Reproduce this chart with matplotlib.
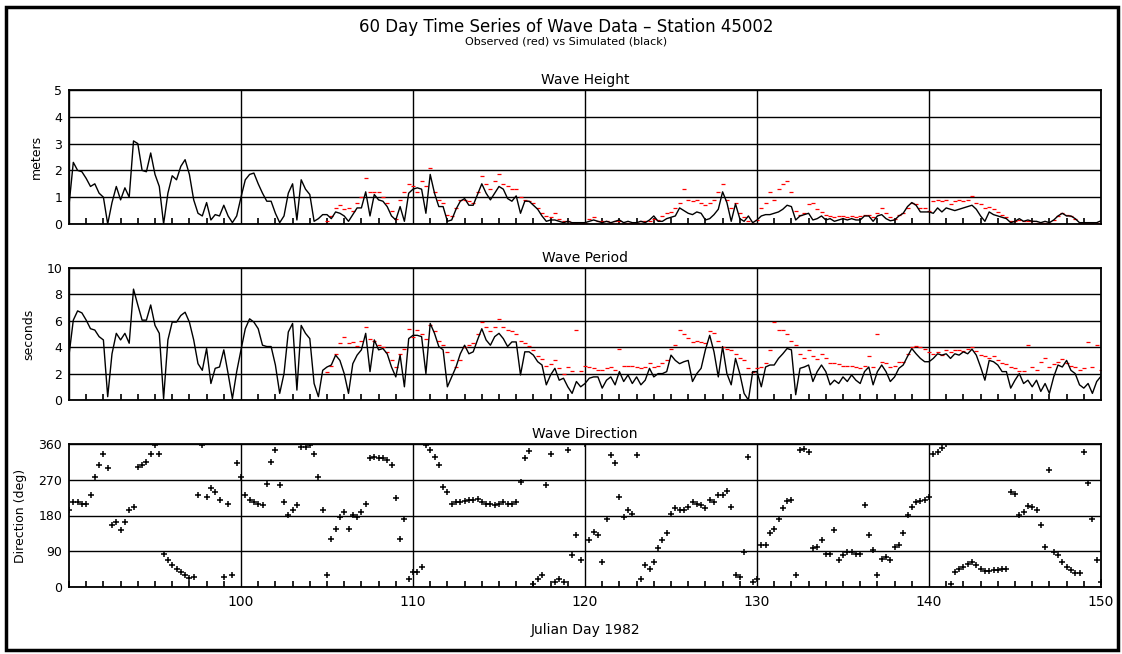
import numpy as np
import matplotlib.pyplot as plt
from matplotlib.patches import Rectangle
from matplotlib.ticker import MultipleLocator

# time axis: every 6 hours, Julian day 90 to 150
day_start = 90.0
step = 0.25

# simulated wave height (m), 90.0 .. 150.0
height_sim = [
    0.7, 2.3, 2.0, 1.95, 1.7, 1.4, 1.5, 1.15, 1.0, 0.0, 0.8, 1.4, 0.9, 1.35, 1.0, 3.1,
    3.0, 2.0, 1.95, 2.65, 1.85, 1.4, 0.0, 1.15, 1.8, 1.65, 2.15, 2.4, 1.85, 0.9, 0.4, 0.3,
    0.8, 0.15, 0.35, 0.3, 0.7, 0.3, 0.05, 0.3, 1.0,
    1.65, 1.85, 1.9, 1.5, 1.15, 0.85, 0.85, 0.4, 0.05, 0.3, 1.15, 1.5, 0.15, 1.65, 1.3, 1.1,
    0.1, 0.2, 0.35, 0.35, 0.2, 0.45, 0.4, 0.3, 0.1, 0.35, 0.6, 0.6, 1.2, 0.3, 1.1, 0.9,
    0.85, 0.65, 0.3, 0.15, 0.65, 0.1, 1.15, 1.3,
    1.35, 1.3, 0.4, 1.85, 1.15, 0.65, 0.65, 0.1, 0.15, 0.55, 0.85, 0.95, 0.7, 0.7, 1.1,
    1.5, 1.15, 0.9, 1.15, 1.4, 1.3, 0.95, 0.85, 1.05, 0.4, 0.85, 0.85, 0.7, 0.55, 0.3,
    0.1, 0.15, 0.15, 0.1, 0.05, 0.1, 0.05, 0.05, 0.05, 0.05,
    0.1, 0.15, 0.1, 0.05, 0.1, 0.05, 0.1, 0.15, 0.05, 0.1, 0.05, 0.05, 0.1, 0.05, 0.15,
    0.3, 0.1, 0.1, 0.2, 0.25, 0.3, 0.6, 0.5, 0.4, 0.35, 0.45, 0.4, 0.15, 0.2, 0.35, 0.55,
    1.2, 0.8, 0.1, 0.75, 0.2, 0.1, 0.3, 0.05, 0.15,
    0.3, 0.35, 0.35, 0.4, 0.45, 0.55, 0.7, 0.65, 0.15, 0.3, 0.35, 0.4, 0.15, 0.2, 0.3,
    0.15, 0.2, 0.1, 0.15, 0.2, 0.15, 0.2, 0.15, 0.15, 0.3, 0.3, 0.1, 0.3, 0.35, 0.2, 0.12,
    0.15, 0.3, 0.4, 0.65, 0.8, 0.7, 0.45, 0.45, 0.45,
    0.4, 0.6, 0.45, 0.6, 0.55, 0.5, 0.55, 0.6, 0.65, 0.7, 0.55, 0.3, 0.1, 0.45, 0.35,
    0.3, 0.25, 0.2, 0.05, 0.1, 0.2, 0.1, 0.15, 0.1, 0.1, 0.05, 0.1, 0.05, 0.15, 0.3, 0.4,
    0.3, 0.3, 0.2, 0.05, 0.05, 0.05, 0.05, 0.05, 0.12,
]

# observed wave height (m), buoy record starts at day 105.0
obs_start = 105.0
height_obs = [
    0.1, 0.3, 0.6, 0.7, 0.55, 0.6, 0.5, 0.8, 1.0, 1.7, 1.2, 1.2, 1.2, 1.0, 0.8, 0.5,
    0.2, 0.9, 1.2, 1.5,
    1.4, 1.2, 1.6, 1.4, 2.1, 1.2, 0.9, 0.8, 0.35, 0.3, 0.6, 0.9, 0.9, 0.85, 0.8, 1.2,
    1.8, 1.5, 1.3, 1.6, 1.85, 1.5, 1.4, 1.3, 1.3, 1.0, 0.9, 0.85, 0.8, 0.6, 0.4, 0.3,
    0.25, 0.4, 0.2, 0.1, 0.1, 0.05, 0.05, 0.05,
    0.05, 0.2, 0.25, 0.1, 0.1, 0.1, 0.05, 0.1, 0.1, 0.05, 0.05, 0.05, 0.05, 0.1, 0.1,
    0.1, 0.2, 0.15, 0.3, 0.4, 0.45, 0.6, 0.8, 1.3, 0.9, 0.85, 0.9, 0.8, 0.7, 0.8, 0.9,
    1.2, 1.5, 0.9, 0.6, 0.8, 0.4, 0.25, 0.1, 0.05,
    0.15, 0.6, 0.8, 1.2, 0.9, 1.3, 1.5, 1.6, 1.2, 0.5, 0.35, 0.4, 0.75, 0.8, 0.55, 0.45,
    0.35, 0.3, 0.25, 0.3, 0.3, 0.25, 0.3, 0.25, 0.3, 0.35, 0.35, 0.25, 0.4, 0.6, 0.4,
    0.25, 0.2, 0.35, 0.4, 0.6, 0.8, 0.75, 0.6, 0.6,
    0.5, 0.85, 0.9, 0.85, 0.9, 0.75, 0.85, 0.9, 0.85, 0.9, 1.05, 0.8, 0.75, 0.6, 0.65,
    0.55, 0.45, 0.35, 0.25, 0.1, 0.1, 0.15, 0.1, 0.1, 0.1, 0.05, 0.05, 0.05, 0.05, 0.15,
    0.3, 0.4, 0.35, 0.3, 0.2, 0.05, 0.05, 0.05, 0.05, 0.05, 0.05,
]

# simulated wave period (s)
period_sim = [
    3.4, 6.05, 6.75, 6.6, 6.05, 5.4, 5.3, 4.8, 4.55, 0.25, 3.5, 5.05, 4.55, 5.05, 4.3, 8.4,
    7.2, 6.05, 6.05, 7.2, 5.65, 5.05, 0.1, 4.55, 5.9, 5.9, 6.4, 6.65, 5.9, 4.55, 2.75, 2.25,
    3.9, 1.25, 2.4, 2.5, 3.8, 2.0, 0.1, 2.15, 3.8,
    5.4, 6.15, 5.9, 5.4, 4.15, 4.05, 4.05, 2.65, 0.5, 2.0, 5.15, 5.8, 0.75, 5.65, 5.05,
    4.65, 1.25, 0.25, 2.25, 2.5, 2.65, 3.4, 3.0, 2.0, 0.5, 2.75, 3.4, 3.8, 5.05, 2.15,
    4.55, 3.8, 3.9, 3.5, 2.5, 1.75, 3.4, 1.0, 4.65, 4.9,
    4.9, 4.8, 2.0, 5.8, 5.05, 4.05, 3.8, 1.0, 1.75, 2.5, 3.5, 4.15, 3.5, 3.65, 4.55,
    5.4, 4.55, 4.15, 4.8, 5.05, 4.65, 4.05, 4.4, 4.4, 1.9, 3.65, 3.65, 3.4, 2.9, 2.65,
    1.15, 1.9, 2.4, 1.5, 1.65, 1.0, 0.5, 1.4, 1.0, 1.25,
    1.65, 1.75, 1.75, 0.9, 1.5, 1.75, 1.15, 2.15, 1.4, 1.9, 1.25, 1.75, 1.15, 1.5, 2.4,
    1.75, 2.0, 2.0, 2.15, 3.4, 3.0, 2.75, 2.9, 3.0, 1.4, 2.0, 2.4, 3.8, 4.9, 3.65, 1.75,
    4.05, 2.0, 1.15, 3.15, 2.0, 0.5, 0.0, 2.15, 2.15,
    1.0, 2.5, 2.65, 2.65, 3.15, 3.5, 3.9, 3.8, 0.4, 2.4, 2.5, 2.65, 1.4, 2.15, 2.65,
    2.15, 1.15, 1.5, 1.25, 1.75, 1.4, 1.9, 1.5, 1.25, 2.15, 2.5, 1.15, 2.15, 2.65, 2.15,
    1.4, 1.75, 2.4, 2.65, 3.3, 3.9, 3.5, 3.15, 2.9, 2.9,
    3.15, 3.5, 3.4, 3.5, 3.15, 3.5, 3.4, 3.65, 3.5, 3.85, 3.4, 2.5, 1.5, 3.0, 2.9,
    2.65, 2.15, 2.15, 0.9, 1.5, 2.0, 1.25, 1.5, 1.0, 1.5, 0.65, 1.25, 0.5, 1.75, 2.65,
    2.5, 3.0, 2.25, 2.0, 1.15, 0.9, 1.25, 0.5, 1.4, 1.8,
]

# observed wave period (s), from day 105.0
period_obs = [
    2.1, 2.6, 3.5, 4.3, 4.8, 4.3, 4.4, 4.1, 4.5, 5.5, 4.6, 4.5, 4.2, 4.0, 3.6, 3.0,
    2.5, 3.5, 3.9, 5.4,
    4.8, 5.3, 5.0, 4.6, 5.7, 5.2, 4.5, 4.2, 3.6, 3.0, 2.5, 3.0, 4.0, 4.2, 4.3, 5.0,
    5.9, 5.5, 5.2, 5.5, 6.1, 5.5, 5.3, 5.2, 5.0, 4.5, 4.3, 4.1, 3.8, 3.3, 3.1, 2.6,
    2.7, 3.0, 2.4, 2.0, 2.5, 2.2, 5.3, 2.2,
    2.6, 2.5, 2.4, 2.3, 2.3, 2.4, 2.5, 2.3, 3.9, 2.6, 2.6, 2.6, 2.5, 2.4, 2.5, 2.8,
    2.5, 2.6, 2.8, 3.0, 3.9, 4.2, 5.3, 5.0, 4.7, 4.4, 4.5, 4.4, 4.3, 5.2, 5.1, 4.5,
    4.0, 3.9, 3.8, 3.5, 3.2, 3.0, 2.4, 2.1,
    2.4, 2.5, 2.8, 3.8, 5.9, 5.3, 5.3, 5.0, 4.5, 4.2, 3.5, 3.2, 3.8, 3.3, 3.1, 3.5,
    3.2, 2.8, 2.8, 2.7, 2.6, 2.6, 2.6, 2.5, 2.4, 2.6, 3.3, 2.5, 5.0, 2.9, 2.8, 2.5,
    2.6, 2.9, 2.9, 3.5, 4.0, 4.1, 4.0, 3.9,
    3.6, 3.5, 3.6, 3.4, 3.8, 3.6, 3.8, 3.8, 3.7, 3.9, 4.0, 3.7, 3.4, 3.3, 3.2, 3.3,
    3.0, 2.8, 2.7, 2.5, 2.4, 2.2, 2.2, 4.2, 2.5, 2.3, 2.9, 3.2, 2.5, 2.7, 2.9, 3.1,
    2.8, 2.6, 2.5, 2.3, 2.4, 4.4, 2.5, 4.2, 2.3,
]

# simulated wave direction (deg)
direction_sim = [
    193, 214, 213, 210, 208, 231, 278, 307, 336, 299, 156, 164, 143, 164, 193, 202,
    303, 307, 315, 336, 357, 336, 84, 67, 55, 46, 38, 31, 23, 25, 231, 357,
    227, 248, 240, 219, 25, 210, 29, 311, 278,
    231, 219, 214, 210, 206, 260, 315, 345, 256, 214, 181, 193, 206, 353, 353, 357,
    336, 278, 193, 29, 122, 147, 177, 189, 147, 181, 177, 189, 210, 324, 328, 324,
    324, 320, 307, 223, 122, 172, 21, 38,
    38, 50, 357, 345, 328, 307, 252, 240, 210, 213, 213, 216, 219, 219, 221, 213,
    210, 208, 206, 210, 213, 210, 208, 213, 265, 324, 342, 8, 21, 29, 256, 336,
    13, 21, 13, 345, 80, 130, 67, 359,
    118, 139, 130, 63, 172, 332, 311, 227, 177, 193, 185, 332, 21, 55, 46, 63,
    97, 118, 135, 185, 198, 193, 193, 202, 214, 210, 206, 198, 219, 214, 231, 231,
    241, 202, 29, 25, 88, 328, 13, 21,
    105, 105, 135, 147, 172, 198, 216, 219, 29, 345, 347, 341, 97, 101, 118, 82,
    84, 143, 67, 80, 88, 87, 84, 82, 206, 130, 92, 29, 71, 76, 67, 101,
    105, 135, 181, 202, 213, 216, 219, 227,
    336, 341, 349, 359, 8, 38, 45, 50, 59, 63, 55, 46, 40, 40, 42, 42,
    45, 45, 240, 235, 181, 189, 204, 202, 193, 156, 101, 294, 88, 80, 63, 50,
    42, 34, 34, 341, 261, 172, 67, 13,
]

x_ticks = [100, 110, 120, 130, 140, 150]

days = day_start + step * np.arange(len(height_sim))
obs_days = obs_start + step * np.arange(len(height_obs))

fig = plt.figure(figsize=(11.22, 6.54), dpi=100)
W, H = 1122.0, 654.0

# outer frame
fig.patches.append(Rectangle((6 / W, 1 - 650 / H), 1112 / W, 643 / H,
                             transform=fig.transFigure, fill=False,
                             edgecolor='black', linewidth=2.5))


def panel(top, bottom):
    return fig.add_axes([69 / W, 1 - bottom / H, 1032 / W, (bottom - top) / H])


def style(ax, ymax, ystep, title, ylabel, show_x=False):
    ax.set_xlim(90, 150)
    ax.set_ylim(0, ymax)
    ax.set_yticks(np.arange(0, ymax + 0.1, ystep))
    ax.xaxis.set_major_locator(MultipleLocator(10))
    ax.xaxis.set_minor_locator(MultipleLocator(1))
    ax.grid(True, which='major', color='black', linewidth=1.0)
    ax.set_axisbelow(True)
    ax.tick_params(axis='x', which='minor', direction='in', length=4, width=1.2,
                   bottom=True, top=False, color='black')
    ax.tick_params(axis='x', which='major', length=0, labelsize=10, pad=6)
    ax.tick_params(axis='y', which='major', length=0, labelsize=9, pad=5)
    for sp in ax.spines.values():
        sp.set_linewidth(1.3)
    ax.set_title(title, fontsize=10, pad=4)
    ax.set_ylabel(ylabel, fontsize=9, labelpad=8)
    if show_x:
        ax.set_xticks(x_ticks)
        ax.set_xticklabels([str(t) for t in x_ticks])
    else:
        ax.set_xticklabels([])


# wave height
ax1 = panel(90, 224)
ax1.plot(obs_days, height_obs, linestyle='none', marker='_', markersize=2.2,
         markeredgewidth=0.9, color='red', zorder=2)
ax1.plot(days, height_sim, color='black', linewidth=1.0, zorder=3)
style(ax1, 5, 1, 'Wave Height', 'meters')

# wave period
ax2 = panel(268, 400)
ax2.plot(obs_days, period_obs, linestyle='none', marker='_', markersize=2.2,
         markeredgewidth=0.9, color='red', zorder=2)
ax2.plot(days, period_sim, color='black', linewidth=1.0, zorder=3)
style(ax2, 10, 2, 'Wave Period', 'seconds')

# wave direction
ax3 = panel(444, 587)
ax3.plot(days, direction_sim, linestyle='none', marker='+', markersize=5,
         markeredgewidth=1.1, color='black', zorder=3)
style(ax3, 360, 90, 'Wave Direction', 'Direction (deg)', show_x=True)
ax3.set_xlabel('Julian Day 1982', fontsize=10, labelpad=10)

fig.text(566 / W, 1 - 27 / H, '60 Day Time Series of Wave Data \u2013 Station 45002',
         ha='center', va='center', fontsize=12)
fig.text(566 / W, 1 - 41 / H, 'Observed (red) vs Simulated (black)',
         ha='center', va='center', fontsize=8)

fig.savefig('out.png', dpi=100)
